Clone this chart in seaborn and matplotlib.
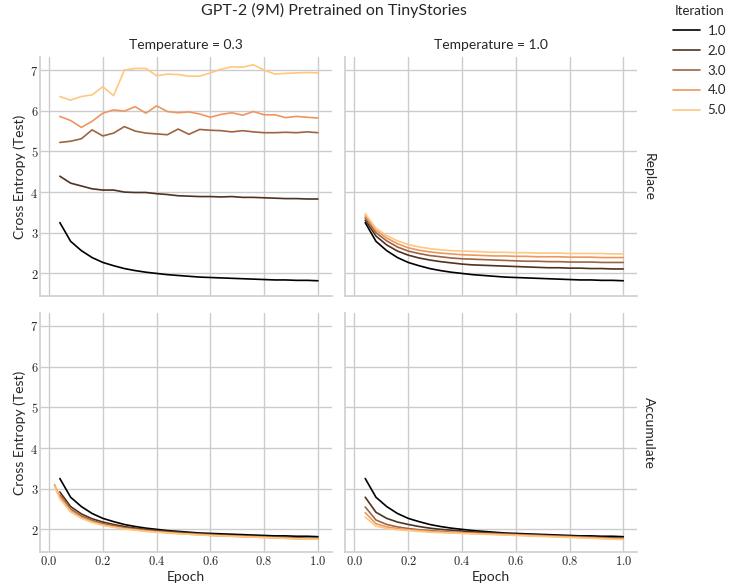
import numpy as np
import pandas as pd
import seaborn as sns
import matplotlib
matplotlib.use("Agg")
import matplotlib.pyplot as plt
from matplotlib.ticker import FuncFormatter

# ---------------- data ----------------
epochs = [0.04, 0.08, 0.12, 0.16, 0.20, 0.24, 0.28, 0.32, 0.36, 0.40, 0.44, 0.48, 0.52,
          0.56, 0.60, 0.64, 0.68, 0.72, 0.76, 0.80, 0.84, 0.88, 0.92, 0.96, 1.00]
epochs_early = [0.02] + epochs

iter1 = [3.25, 2.79, 2.56, 2.39, 2.27, 2.19, 2.12, 2.07, 2.03, 2.00, 1.97, 1.95, 1.93,
         1.91, 1.90, 1.89, 1.88, 1.87, 1.86, 1.85, 1.84, 1.84, 1.83, 1.83, 1.82]

# Replace, Temperature 0.3
rep03_it2 = [4.39, 4.22, 4.15, 4.08, 4.05, 4.05, 4.00, 3.99, 3.99, 3.96, 3.94, 3.91, 3.90,
             3.89, 3.89, 3.88, 3.89, 3.87, 3.87, 3.86, 3.85, 3.84, 3.84, 3.83, 3.83]
rep03_it3 = [5.22, 5.25, 5.31, 5.53, 5.38, 5.45, 5.61, 5.50, 5.45, 5.43, 5.41, 5.55, 5.42,
             5.54, 5.52, 5.51, 5.48, 5.51, 5.48, 5.46, 5.46, 5.47, 5.46, 5.48, 5.46]
rep03_it4 = [5.86, 5.76, 5.59, 5.74, 5.94, 6.02, 5.99, 6.10, 5.94, 6.12, 5.98, 5.95, 5.97,
             5.92, 5.84, 5.91, 5.95, 5.89, 5.98, 5.90, 5.90, 5.83, 5.86, 5.84, 5.82]
rep03_it5 = [6.35, 6.26, 6.35, 6.39, 6.59, 6.37, 7.00, 7.04, 7.04, 6.86, 6.90, 6.89, 6.85,
             6.85, 6.93, 7.02, 7.08, 7.07, 7.13, 7.00, 6.90, 6.92, 6.93, 6.94, 6.93]

# Replace, Temperature 1.0
rep10_it2 = [3.31, 2.92, 2.70, 2.55, 2.45, 2.38, 2.33, 2.29, 2.26, 2.23, 2.21, 2.20, 2.19,
             2.18, 2.17, 2.16, 2.15, 2.14, 2.14, 2.13, 2.13, 2.12, 2.12, 2.11, 2.11]
rep10_it3 = [3.37, 3.00, 2.80, 2.65, 2.55, 2.49, 2.44, 2.41, 2.38, 2.36, 2.35, 2.34, 2.33,
             2.32, 2.31, 2.30, 2.30, 2.29, 2.29, 2.28, 2.28, 2.28, 2.27, 2.27, 2.27]
rep10_it4 = [3.42, 3.06, 2.87, 2.73, 2.63, 2.57, 2.53, 2.50, 2.48, 2.46, 2.45, 2.44, 2.43,
             2.43, 2.42, 2.42, 2.41, 2.41, 2.41, 2.40, 2.40, 2.40, 2.39, 2.39, 2.39]
rep10_it5 = [3.47, 3.11, 2.93, 2.80, 2.71, 2.65, 2.61, 2.58, 2.56, 2.55, 2.54, 2.53, 2.52,
             2.52, 2.51, 2.51, 2.50, 2.50, 2.50, 2.49, 2.49, 2.49, 2.49, 2.48, 2.48]

# Accumulate, Temperature 0.3
acc03_it2 = [2.92, 2.56, 2.38, 2.26, 2.18, 2.12, 2.07, 2.03, 2.00, 1.97, 1.95, 1.93, 1.91,
             1.89, 1.88, 1.86, 1.85, 1.84, 1.83, 1.82, 1.81, 1.80, 1.79, 1.78, 1.78]
acc03_it3 = [2.85, 2.50, 2.33, 2.22, 2.14, 2.09, 2.04, 2.01, 1.98, 1.95, 1.93, 1.91, 1.89,
             1.88, 1.86, 1.85, 1.84, 1.83, 1.82, 1.81, 1.80, 1.79, 1.78, 1.77, 1.77]
acc03_it4 = [3.10, 2.80, 2.46, 2.29, 2.19, 2.11, 2.06, 2.02, 1.99, 1.96, 1.94, 1.92, 1.90, 1.88,
             1.87, 1.85, 1.84, 1.83, 1.82, 1.81, 1.80, 1.79, 1.78, 1.77, 1.77, 1.76]
acc03_it5 = [3.05, 2.75, 2.43, 2.27, 2.17, 2.10, 2.05, 2.01, 1.98, 1.95, 1.93, 1.91, 1.89, 1.88,
             1.86, 1.85, 1.84, 1.83, 1.82, 1.81, 1.80, 1.79, 1.78, 1.77, 1.76, 1.76]

# Accumulate, Temperature 1.0
acc10_it2 = [2.79, 2.42, 2.27, 2.18, 2.12, 2.07, 2.03, 2.00, 1.98, 1.96, 1.94, 1.92, 1.91,
             1.89, 1.88, 1.87, 1.86, 1.85, 1.84, 1.83, 1.82, 1.81, 1.80, 1.79, 1.78]
acc10_it3 = [2.55, 2.23, 2.12, 2.06, 2.02, 1.99, 1.97, 1.95, 1.93, 1.92, 1.91, 1.90, 1.89,
             1.88, 1.87, 1.86, 1.85, 1.84, 1.83, 1.82, 1.81, 1.80, 1.79, 1.78, 1.77]
acc10_it4 = [2.41, 2.14, 2.06, 2.02, 1.99, 1.97, 1.95, 1.93, 1.92, 1.91, 1.90, 1.89, 1.88,
             1.87, 1.86, 1.85, 1.84, 1.83, 1.82, 1.81, 1.80, 1.79, 1.78, 1.77, 1.76]
acc10_it5 = [2.30, 2.08, 2.02, 1.99, 1.97, 1.95, 1.93, 1.92, 1.91, 1.90, 1.89, 1.88, 1.87,
             1.86, 1.85, 1.84, 1.83, 1.82, 1.81, 1.80, 1.79, 1.78, 1.77, 1.76, 1.75]

setting_order = ["Replace", "Accumulate"]
temperature_order = [0.3, 1.0]

# ---------------- build long table ----------------
series = [
    ("Replace", 0.3, 1.0, epochs, iter1),
    ("Replace", 0.3, 2.0, epochs, rep03_it2),
    ("Replace", 0.3, 3.0, epochs, rep03_it3),
    ("Replace", 0.3, 4.0, epochs, rep03_it4),
    ("Replace", 0.3, 5.0, epochs, rep03_it5),
    ("Replace", 1.0, 1.0, epochs, iter1),
    ("Replace", 1.0, 2.0, epochs, rep10_it2),
    ("Replace", 1.0, 3.0, epochs, rep10_it3),
    ("Replace", 1.0, 4.0, epochs, rep10_it4),
    ("Replace", 1.0, 5.0, epochs, rep10_it5),
    ("Accumulate", 0.3, 1.0, epochs, iter1),
    ("Accumulate", 0.3, 2.0, epochs, acc03_it2),
    ("Accumulate", 0.3, 3.0, epochs, acc03_it3),
    ("Accumulate", 0.3, 4.0, epochs_early, acc03_it4),
    ("Accumulate", 0.3, 5.0, epochs_early, acc03_it5),
    ("Accumulate", 1.0, 1.0, epochs, iter1),
    ("Accumulate", 1.0, 2.0, epochs, acc10_it2),
    ("Accumulate", 1.0, 3.0, epochs, acc10_it3),
    ("Accumulate", 1.0, 4.0, epochs, acc10_it4),
    ("Accumulate", 1.0, 5.0, epochs, acc10_it5),
]
rows = []
for setting, temp, it, xs, ys in series:
    for x, y in zip(xs, ys):
        rows.append({"Setting": setting, "Temperature": temp, "Iteration": it,
                     "Epoch": x, "Cross Entropy (Test)": y})
df = pd.DataFrame(rows)

# ---------------- plot ----------------
sns.set_theme(style="whitegrid")
plt.rcParams["font.family"] = ["Lato", "DejaVu Sans"]
plt.rcParams["mathtext.fontset"] = "cm"

g = sns.relplot(
    data=df, kind="line", x="Epoch", y="Cross Entropy (Test)",
    hue="Iteration", palette="copper", row="Setting", col="Temperature",
    row_order=setting_order, col_order=temperature_order,
    facet_kws=dict(margin_titles=True, sharex=True, sharey=True),
    legend="full", linewidth=1.2, height=2.9, aspect=1.2,
)
g.figure.set_size_inches(7.35, 5.88)
g.set_titles(col_template="Temperature = {col_name}", row_template="{row_name}", size=10)
g.set(xlim=(-0.035, 1.052), ylim=(1.44, 7.32), xticks=[0, 0.2, 0.4, 0.6, 0.8, 1.0],
      yticks=[2, 3, 4, 5, 6, 7])
for ax in g.axes.flat:
    ax.xaxis.set_major_formatter(FuncFormatter(lambda v, p: f"${v:.1f}$"))
    ax.yaxis.set_major_formatter(FuncFormatter(lambda v, p: f"${v:g}$"))
    ax.tick_params(labelsize=9, pad=1, length=0)
    for sp in ax.spines.values():
        sp.set_color("#d0d0d0")
for ax in g.axes[-1, :]:
    ax.set_xlabel("Epoch", fontsize=10, labelpad=3)
for ax in g.axes[:, 0]:
    ax.set_ylabel("Cross Entropy (Test)", fontsize=10, labelpad=3)
g.figure.suptitle("GPT-2 (9M) Pretrained on TinyStories", fontsize=11.5, x=0.455, y=0.995)
g.figure.subplots_adjust(left=0.054, right=0.867, top=0.903, bottom=0.061,
                         wspace=0.045, hspace=0.07)
sns.move_legend(g, "upper left", bbox_to_anchor=(0.9, 1.012), frameon=False,
                fontsize=9.5, title_fontsize=9.5, handlelength=2.0, handletextpad=0.6,
                labelspacing=0.6)
g.figure.savefig("out.png", dpi=100)
